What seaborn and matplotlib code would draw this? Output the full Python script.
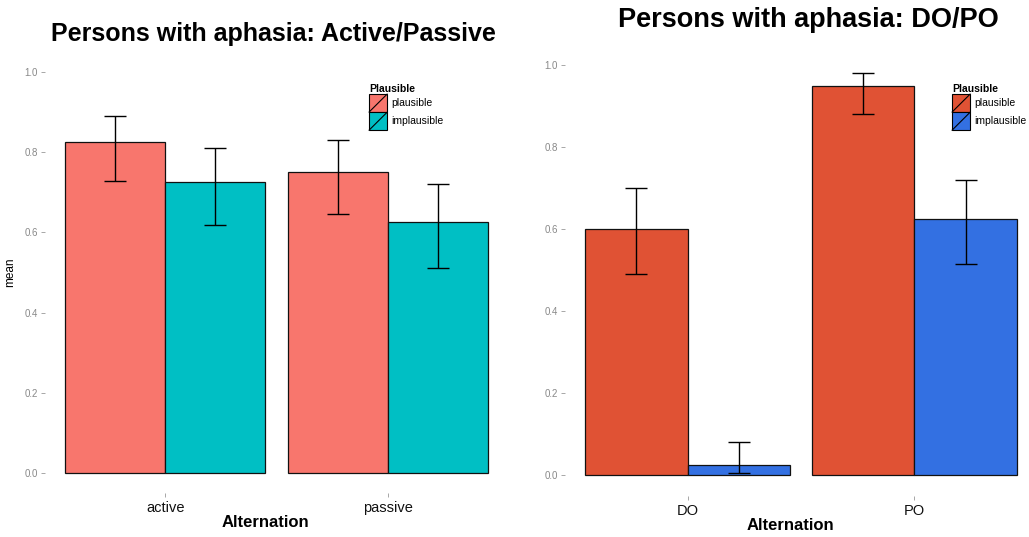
import matplotlib
matplotlib.use("Agg")
import matplotlib.pyplot as plt
from matplotlib.patches import Rectangle
from matplotlib.lines import Line2D
from matplotlib.legend_handler import HandlerBase
import seaborn as sns
import pandas as pd

# ---- data ----
ap_alternation = ["active", "active", "passive", "passive"]
ap_plausible = ["plausible", "implausible", "plausible", "implausible"]
ap_mean = [0.825, 0.725, 0.750, 0.625]
ap_lo = [0.728, 0.618, 0.645, 0.510]
ap_hi = [0.890, 0.810, 0.830, 0.720]

dp_alternation = ["DO", "DO", "PO", "PO"]
dp_plausible = ["plausible", "implausible", "plausible", "implausible"]
dp_mean = [0.600, 0.025, 0.950, 0.625]
dp_lo = [0.490, 0.005, 0.880, 0.515]
dp_hi = [0.700, 0.080, 0.980, 0.720]

hue_levels = ["plausible", "implausible"]
left_colors = ["#F8766D", "#00BFC4"]
right_colors = ["#E05234", "#3370E2"]
yticks = [0.0, 0.2, 0.4, 0.6, 0.8, 1.0]

sns.set_theme(style="white")
plt.rcParams["font.family"] = ["Liberation Sans", "DejaVu Sans"]
plt.rcParams["text.color"] = "black"
plt.rcParams["axes.labelcolor"] = "black"


class DiagHandler(HandlerBase):
    def create_artists(self, legend, orig_handle, xdescent, ydescent,
                       width, height, fontsize, trans):
        r = Rectangle((-xdescent, -ydescent), width, height,
                      facecolor=orig_handle.get_facecolor(),
                      edgecolor="black", lw=0.8, transform=trans)
        l = Line2D([-xdescent, -xdescent + width],
                   [-ydescent, -ydescent + height],
                   color="black", lw=0.8, transform=trans)
        return [r, l]


def panel(ax, alt, pl, mean, lo, hi, colors, title, title_size, title_x,
          title_y, ylabel, xlab_x, leg_xy):
    df = pd.DataFrame({"Alternation": alt, "Plausible": pl, "mean": mean,
                       "lo": lo, "hi": hi})
    sns.barplot(data=df, x="Alternation", y="mean", hue="Plausible",
                hue_order=hue_levels, palette=colors, width=0.9,
                errorbar=None, edgecolor="#111111", linewidth=0.9,
                saturation=1, ax=ax, legend=False)
    for level, cont in zip(hue_levels, ax.containers):
        sub = df[df["Plausible"] == level]
        for bar, (_, row) in zip(cont, sub.iterrows()):
            xc = bar.get_x() + bar.get_width() / 2
            ax.errorbar([xc], [row["mean"]],
                        yerr=[[row["mean"] - row["lo"]], [row["hi"] - row["mean"]]],
                        fmt="none", ecolor="black", elinewidth=1.0,
                        capsize=8, capthick=1.0)
    ax.set_xlim(-0.54, 1.54)
    ax.set_ylim(-0.05, 1.05)
    ax.set_yticks(yticks)
    ax.set_yticklabels([f"{v:.1f}" for v in yticks])
    for s in ax.spines.values():
        s.set_visible(False)
    ax.tick_params(axis="y", left=True, length=3, width=0.6, color="#999999",
                   labelsize=7, labelcolor="#888888", pad=2)
    ax.tick_params(axis="x", bottom=True, length=3, width=0.6, color="#999999",
                   labelsize=10.5, labelcolor="#111111", pad=3)
    ax.set_xlabel("Alternation", fontsize=12, fontweight="bold", labelpad=0,
                  x=xlab_x)
    ax.set_ylabel(ylabel, fontsize=8.5, labelpad=6)
    ax.set_title(title, fontsize=title_size, fontweight="bold", x=title_x,
                 y=title_y, color="black")
    handles = [Rectangle((0, 0), 1, 1, facecolor=c) for c in colors]
    ax.legend(handles, hue_levels, title="Plausible",
              handler_map={Rectangle: DiagHandler()},
              loc="upper left", bbox_to_anchor=leg_xy,
              bbox_transform=ax.figure.transFigure,
              frameon=False, fontsize=7.5,
              title_fontproperties={"weight": "bold", "size": 7.5},
              handlelength=1.75, handleheight=2.3, handletextpad=0.35,
              labelspacing=0.0, borderpad=0, borderaxespad=0,
              alignment="left")
    return ax


fig = plt.figure(figsize=(10.29, 5.37), dpi=100)
W, H = 1029, 537
ax1 = fig.add_axes([45 / W, 1 - 493 / H, 463 / W, 441 / H])
ax2 = fig.add_axes([565 / W, 1 - 495.5 / H, 472 / W, 451 / H])

panel(ax1, ap_alternation, ap_plausible, ap_mean, ap_lo, ap_hi, left_colors,
      "Persons with aphasia: Active/Passive", 18, (273 - 45) / 463, 1.005,
      "mean", (265 - 45) / 463, (369 / W, 1 - 84 / H))
panel(ax2, dp_alternation, dp_plausible, dp_mean, dp_lo, dp_hi, right_colors,
      "Persons with aphasia: DO/PO", 19.5, (808 - 565) / 472, 1.02,
      "", (790 - 565) / 472, (952 / W, 1 - 84 / H))

fig.savefig("out.png", dpi=100)
